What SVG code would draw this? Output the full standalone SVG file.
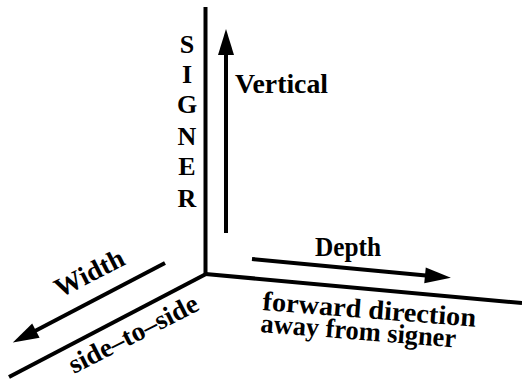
<svg xmlns="http://www.w3.org/2000/svg" width="522" height="379" viewBox="0 0 522 379">
<style>
.ax{stroke:#000;stroke-width:4;fill:none;stroke-linecap:butt}
.ar{stroke:#000;stroke-width:4;fill:none}
.t{font-family:'Liberation Serif','Times New Roman',Times,serif;font-weight:700;font-size:27px;fill:#000}
.sg{text-anchor:middle;font-size:26px}
</style>
<defs>
<marker id="ah" markerUnits="userSpaceOnUse" viewBox="-2 -9 30 18" markerWidth="30" markerHeight="18" refX="1" refY="0" orient="auto">
<path d="M0,-8 L26,0 L0,8 z" fill="#000"/>
</marker>
</defs>
<g id="connectors">
<line class="ax" x1="205.5" y1="7" x2="205.5" y2="276"/>
<polyline class="ax" points="205.5,274 522,303"/>
<line class="ax" x1="206" y1="274" x2="9" y2="377"/>
<line class="ar" x1="226" y1="233" x2="226" y2="54" marker-end="url(#ah)"/>
<line class="ar" x1="252" y1="259" x2="426" y2="275.5" marker-end="url(#ah)"/>
<line class="ar" x1="165" y1="263" x2="35" y2="331" marker-end="url(#ah)"/>
</g>
<g id="signer" class="t sg">
<text x="187" y="53">S</text>
<text x="187" y="83">I</text>
<text x="187" y="113">G</text>
<text x="187" y="145">N</text>
<text x="187" y="175">E</text>
<text x="187" y="207">R</text>
</g>
<g id="vertical" class="t"><text x="235" y="93" textLength="93" lengthAdjust="spacingAndGlyphs">Vertical</text></g>
<g id="depth" class="t"><text x="315" y="256" textLength="66" lengthAdjust="spacingAndGlyphs">Depth</text></g>
<g id="forward" class="t">
<text x="262" y="310" transform="rotate(4.5 262 310)" textLength="214" lengthAdjust="spacingAndGlyphs">forward direction</text>
<text x="260" y="332" transform="rotate(4.5 260 332)" textLength="196" lengthAdjust="spacingAndGlyphs">away from signer</text>
</g>
<g id="width" class="t"><text x="60" y="298" transform="rotate(-27 60 298)" textLength="75" lengthAdjust="spacingAndGlyphs">Width</text></g>
<g id="side" class="t"><text x="74" y="374" transform="rotate(-27 74 374)" textLength="142" lengthAdjust="spacingAndGlyphs">side–to–side</text></g>
</svg>
